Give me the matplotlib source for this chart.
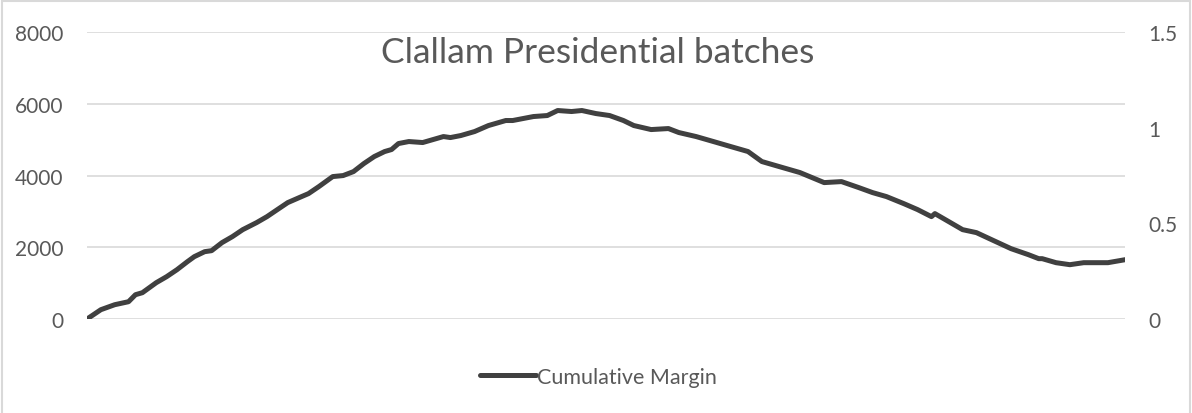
import matplotlib.pyplot as plt
from matplotlib.patches import Rectangle

# batch number and cumulative margin
batch = [0, 4, 8, 12, 14, 16, 20, 23, 26, 29, 31, 34, 36, 39, 42, 45, 49, 52, 55, 58,
         62, 64, 67, 71, 74, 77, 80, 83, 86, 88, 90, 93, 97, 103, 105, 108, 112, 116,
         121, 123, 129, 133, 136, 140, 143, 147, 151, 155, 158, 163, 168, 171, 176,
         181, 186, 191, 195, 200, 206, 213, 218, 223, 227, 231, 236, 240, 244, 245,
         249, 253, 257, 262, 267, 272, 275, 276, 280, 284, 288, 295, 300]
margin = [0, 260, 399, 483, 678, 734, 1013, 1181, 1376, 1599, 1739, 1878, 1906, 2130,
          2297, 2492, 2688, 2855, 3051, 3246, 3414, 3497, 3693, 3972, 4000, 4111, 4335,
          4530, 4670, 4726, 4893, 4949, 4921, 5088, 5060, 5116, 5228, 5395, 5535, 5535,
          5646, 5674, 5814, 5786, 5814, 5730, 5674, 5535, 5395, 5283, 5311, 5200, 5088,
          4949, 4809, 4670, 4391, 4251, 4084, 3804, 3832, 3665, 3525, 3414, 3218, 3051,
          2855, 2939, 2716, 2492, 2409, 2185, 1962, 1795, 1683, 1683, 1571, 1515, 1571,
          1571, 1655]

left_ticks = [0, 2000, 4000, 6000, 8000]
right_ticks = [0, 0.5, 1, 1.5]
right_labels = ['0', '0.5', '1', '1.5']

plt.rcParams['font.family'] = ['Lato', 'DejaVu Sans']
grey = '#595959'

fig = plt.figure(figsize=(11.92, 4.14), dpi=100)
ax = fig.add_axes([0.073, 0.227, 0.871, 0.693])

ax.plot(batch, margin, color='#404040', linewidth=3.6, solid_capstyle='round',
        solid_joinstyle='round', label='Cumulative Margin')
ax.set_xlim(0, 300)
ax.set_ylim(0, 8000)
ax.set_yticks(left_ticks)
ax.set_xticks([])
ax.grid(axis='y', color='#d9d9d9', linewidth=1.2)
ax.set_axisbelow(True)
for s in ax.spines.values():
    s.set_visible(False)
ax.tick_params(axis='y', length=0, pad=17, labelsize=15, labelcolor=grey)

ax2 = ax.twinx()
ax2.set_ylim(0, 1.5)
ax2.set_yticks(right_ticks)
ax2.set_yticklabels(right_labels)
for s in ax2.spines.values():
    s.set_visible(False)
ax2.tick_params(axis='y', length=0, pad=16.5, labelsize=15, labelcolor=grey)

fig.text(0.501, 0.872, 'Clallam Presidential batches', ha='center', va='center',
         fontsize=25.5, color=grey)

leg = fig.legend(loc='center', bbox_to_anchor=(0.502, 0.087), frameon=False,
                 fontsize=15.5, handlelength=2.6, handletextpad=0.05)
for t in leg.get_texts():
    t.set_color(grey)

fig.patches.append(Rectangle((0.002, -0.01), 0.996, 1.006, transform=fig.transFigure,
                             fill=False, edgecolor='#d9d9d9', linewidth=1.5))

fig.savefig('out.png', dpi=100)
